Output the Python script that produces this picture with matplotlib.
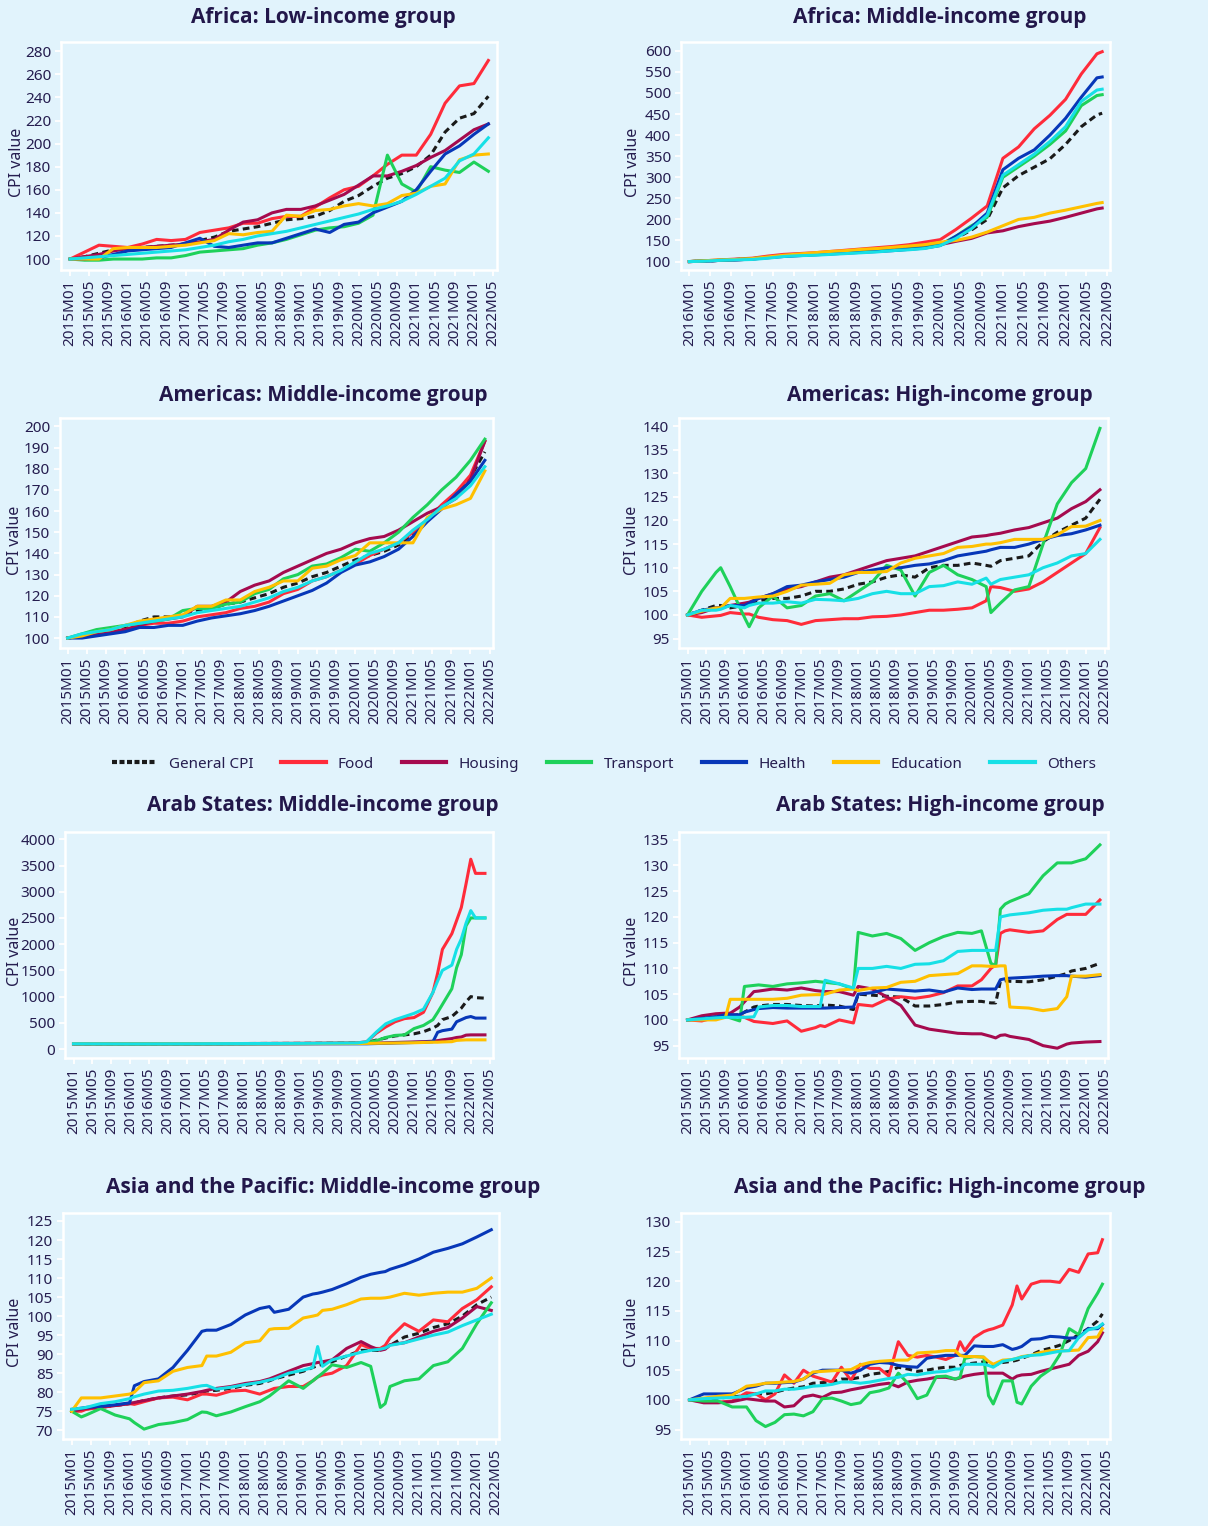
import matplotlib
matplotlib.use("Agg")
import matplotlib.pyplot as plt
from matplotlib.lines import Line2D

plt.rcParams['font.family'] = ['Noto Sans', 'DejaVu Sans']

BG = "#E1F3FC"
NAVY = "#251D4F"
TITLE = "#22174A"
W, H = 1208, 1526

names = ["General CPI", "Food", "Housing", "Transport", "Health", "Education", "Others"]
colors = ["#1A1A1A", "#FF2B3A", "#A50A4E", "#1ED15A", "#0737B8", "#FFC000", "#16E0E6"]

# month index 0 = January of the panel's first year
M_Q = list(range(0, 88, 3))

# ---- Africa: Low-income group (2015M01..)
afl_gen = [100, 102, 105, 108, 109, 110, 111, 112, 113, 116, 119, 124, 126, 128, 131, 134, 135, 137, 142, 150,
           155, 163, 170, 174, 180, 190, 210, 222, 226, 241]
afl_food = [100, 106, 112, 111, 110, 113, 117, 116, 117, 123, 125, 127, 131, 131, 135, 137, 137, 145, 153, 160,
            163, 172, 182, 190, 190, 208, 235, 250, 252, 272]
afl_hous = [100, 102, 104, 107, 109, 110, 111, 112, 113, 115, 117, 125, 132, 134, 140, 143, 143, 146, 151, 156,
            164, 172, 172, 176, 181, 188, 194, 203, 212, 217]
afl_tran = [100, 99, 99, 100, 100, 100, 101, 101, 103, 106, 107, 108, 109, 112, 114, 117, 121, 125, 127, 128,
            131, 138, 190, 165, 158, 180, 177, 175, 184, 176]
afl_heal = [100, 100, 101, 104, 107, 108, 109, 110, 114, 118, 111, 110, 112, 114, 114, 118, 122, 126, 123, 130,
            132, 140, 145, 150, 160, 176, 191, 198, 208, 217]
afl_educ = [100, 100, 100, 109, 110, 110, 110, 111, 112, 114, 116, 122, 121, 123, 124, 138, 137, 142, 143, 146,
            148, 146, 148, 155, 157, 163, 165, 186, 190, 191]
afl_oth = [100, 101, 102, 103, 104, 105, 106, 107, 108, 110, 112, 115, 117, 120, 122, 124, 127, 130, 133, 136,
           139, 143, 146, 150, 156, 163, 170, 185, 191, 205]

# ---- Africa: Middle-income group (2016M01..)
afm_months = list(range(0, 79, 3)) + [79]
afm_gen = [100, 101, 103, 105, 107, 110, 114, 116, 118, 120, 122, 125, 127, 130, 133, 136, 142, 155, 175, 200,
           275, 304, 324, 344, 378, 420, 448, 452]
afm_food = [100, 102, 104, 106, 108, 113, 117, 119, 121, 124, 127, 130, 133, 136, 140, 146, 152, 176, 203, 232,
            345, 372, 415, 447, 485, 545, 593, 598]
afm_hous = [100, 101, 103, 104, 106, 110, 114, 116, 118, 120, 122, 124, 126, 128, 131, 134, 140, 148, 155, 168,
            173, 183, 190, 196, 205, 215, 225, 227]
afm_tran = [100, 102, 103, 105, 107, 110, 113, 115, 117, 119, 121, 123, 125, 127, 130, 133, 140, 160, 185, 205,
            300, 325, 350, 378, 410, 470, 494, 496]
afm_heal = [100, 101, 103, 104, 106, 109, 112, 114, 116, 118, 120, 122, 124, 126, 129, 132, 138, 160, 182, 215,
            318, 345, 365, 400, 440, 490, 536, 538]
afm_educ = [100, 102, 104, 105, 107, 111, 115, 118, 121, 124, 126, 129, 131, 134, 137, 140, 146, 150, 158, 170,
            185, 200, 205, 215, 222, 230, 238, 240]
afm_oth = [100, 101, 103, 104, 105, 108, 112, 114, 115, 117, 119, 121, 123, 126, 128, 131, 138, 155, 178, 210,
           305, 330, 355, 385, 420, 480, 507, 509]

# ---- Americas: Middle-income group
amm_gen = [100, 101, 103, 104, 105, 108, 110, 110, 111, 113, 114, 116, 117, 119, 121, 124, 126, 129, 131, 134,
           137, 139, 141, 144, 149, 156, 162, 168, 176, 188]
amm_food = [100, 101, 102, 103, 104, 106, 107, 107, 108, 110, 111, 112, 114, 115, 117, 121, 123, 127, 129, 132,
            135, 139, 142, 145, 150, 156, 163, 169, 177, 193]
amm_hous = [100, 101, 102, 103, 104, 106, 108, 109, 110, 115, 115, 117, 122, 125, 127, 131, 134, 137, 140, 142,
            145, 147, 148, 151, 155, 159, 162, 166, 175, 193]
amm_tran = [100, 102, 104, 105, 106, 107, 108, 109, 113, 114, 114, 116, 117, 121, 123, 128, 130, 134, 135, 138,
            142, 141, 145, 150, 157, 163, 170, 176, 184, 194]
amm_heal = [100, 100, 101, 102, 103, 105, 105, 106, 106, 108, 109.5, 110.5, 111.5, 113, 115, 117.5, 120, 122.5, 126, 131,
            134.5, 136, 138.5, 142, 148, 155, 161, 168, 174, 184]
amm_educ = [100, 101, 103, 104, 106, 108, 109, 110, 111, 115, 115, 118, 118, 122, 124, 127, 127, 133, 134, 137,
            139, 145, 145, 145, 145, 157, 161, 163, 166, 179]
amm_oth = [100, 102, 103, 104, 106, 107, 108, 109, 110, 112, 113, 114, 115, 117, 119, 122, 124, 127, 129, 132,
           136, 140, 142, 145, 151, 156, 162, 166, 172, 181]

# ---- Americas: High-income group
amh_months = [0, 3, 6, 7, 9, 12, 13, 15, 18, 21, 24, 27, 30, 33, 36, 39, 42, 45, 48, 51, 54, 57, 60, 63,
              64, 66, 69, 72, 75, 78, 81, 84, 87]
amh_gen = [100, 101, 102, 102, 101.5, 102, 102, 103, 103.5, 103.5, 104, 105, 105, 105.5, 106.5, 107, 108, 108.5,
           108, 110, 110.5, 110.5, 111, 110.5, 110.3, 111.5, 112, 112.5, 115.5, 117.5, 119, 120.5, 124.5]
amh_food = [100, 99.5, 99.8, 99.9, 100.5, 100.2, 100.2, 99.5, 99, 98.8, 98, 98.8, 99, 99.2, 99.2, 99.6, 99.7, 100,
            100.5, 101, 101, 101.2, 101.5, 103, 106, 105.8, 105, 105.5, 107, 109, 111, 113, 118.5]
amh_hous = [100, 100.5, 101.5, 101.6, 102, 102.5, 102.7, 103.5, 104.5, 105.5, 106, 107, 108, 108.5, 109.5, 110.5,
            111.5, 112, 112.5, 113.5, 114.5, 115.5, 116.5, 116.8, 117, 117.3, 118, 118.5, 119.5, 120.5, 122.5, 124, 126.5]
amh_tran = [100, 105, 109, 110, 106, 99.5, 97.5, 101.5, 104, 101.5, 102, 104, 104.5, 103, 105, 107, 110.5, 109.5,
            104, 109, 110.5, 108.5, 107.5, 106, 100.5, 102.5, 105.3, 106, 115, 123.5, 128, 131, 139.5]
amh_heal = [100, 101, 101.5, 101.5, 102, 102, 102.5, 103.5, 104.5, 106, 106.3, 107, 107.5, 108, 109, 109.5, 110,
            110, 110.5, 110.8, 111.5, 112.5, 113, 113.5, 113.8, 114.3, 114.3, 115, 116, 116.8, 117.2, 118, 119]
amh_educ = [100, 100.8, 101.5, 101.5, 103.5, 103.5, 103.6, 103.8, 104, 105, 106.3, 106.5, 106.7, 108.5, 109, 109,
            109.2, 111, 112, 112.5, 113, 114.3, 114.5, 115, 115, 115.3, 116, 116, 116, 117, 118.7, 118.8, 120]
amh_oth = [100, 101, 101, 101.2, 102, 101.5, 102, 102.5, 102.5, 102.8, 102.5, 103.3, 103.2, 103, 103.5, 104.5, 105,
           104.5, 104.5, 106, 106.2, 107, 106.5, 107.8, 106.5, 107.5, 108, 108.5, 110, 111, 112.5, 113, 116]

# ---- Arab States: Middle-income group
arm_months = [0, 12, 24, 36, 48, 60, 62, 64, 66, 68, 70, 72, 74, 76, 77, 78, 80, 81, 82, 83, 84, 85, 87]
arm_gen = [100, 100, 102, 105, 108, 115, 125, 170, 210, 250, 270, 290, 330, 400, 450, 560, 620, 700, 780, 900,
           1000, 980, 970]
arm_food = [100, 98, 100, 105, 110, 118, 140, 300, 420, 520, 580, 600, 700, 1080, 1450, 1900, 2200, 2450, 2700,
            3150, 3620, 3350, 3350]
arm_hous = [100, 100, 101, 102, 104, 106, 108, 112, 118, 125, 130, 135, 140, 150, 160, 175, 200, 220, 230, 265,
            270, 270, 270]
arm_tran = [100, 95, 98, 100, 104, 110, 120, 160, 220, 260, 270, 390, 450, 560, 700, 850, 1150, 1550, 1800, 2350,
            2500, 2500, 2500]
arm_heal = [100, 100, 100, 100, 100, 100, 100, 105, 110, 115, 120, 125, 130, 140, 320, 350, 380, 520, 560, 600,
            620, 590, 590]
arm_educ = [100, 100, 101, 102, 103, 105, 107, 110, 112, 115, 118, 120, 125, 130, 130, 135, 140, 165, 170, 175,
            175, 175, 175]
arm_oth = [100, 98, 100, 104, 108, 115, 140, 320, 480, 560, 620, 680, 760, 1080, 1300, 1500, 1600, 1900, 2100,
           2400, 2640, 2500, 2500]

# ---- Arab States: High-income group
arh_months = [0, 3, 6, 8, 9, 11, 12, 14, 15, 18, 21, 24, 27, 28, 29, 32, 35, 36, 39, 42,
              45, 48, 51, 54, 57, 60, 62, 64, 65, 66, 67, 68, 72, 75, 78, 80, 81, 84, 87]
arh_gen = [100, 100.3, 100.6, 100.8, 100.9, 101, 101.5, 102.5, 102.7, 103,
           103, 102.8, 102.7, 102.8, 102.9, 102.7, 102, 105, 104.8, 104.6,
           104.4, 102.7, 102.7, 103, 103.5, 103.6, 103.6, 103.3, 103.3, 107.5,
           107.6, 107.5, 107.4, 107.8, 108.5, 109, 109.5, 110, 111]
arh_food = [100, 99.8, 100.5, 100.7, 101, 100.7, 100.5, 99.7, 99.6, 99.3,
            99.8, 97.8, 98.5, 98.9, 98.7, 100, 99.4, 103, 102.7, 104,
            104.5, 104.2, 104.6, 105.3, 106.6, 106.6, 107.8, 110, 110.7, 116.8,
            117.3, 117.5, 117, 117.3, 119.5, 120.5, 120.5, 120.5, 123.3]
arh_hous = [100, 100.8, 101.2, 101.3, 101.3, 102.5, 103.5, 105.5, 105.6, 106,
            105.8, 106.2, 105.7, 105.6, 105.5, 105.5, 104.8, 106.5, 106, 104.5,
            102.8, 99, 98.2, 97.8, 97.4, 97.3, 97.3, 96.8, 96.5, 97,
            97.1, 96.8, 96.2, 95, 94.5, 95.3, 95.5, 95.7, 95.8]
arh_tran = [100, 100.2, 100.5, 100.8, 100.4, 99.8, 106.5, 106.7, 106.8, 106.5,
            107, 107.2, 107.5, 107.4, 107.3, 107, 106, 117, 116.3, 116.8,
            115.8, 113.5, 115, 116.2, 117, 116.8, 117.3, 111, 110.5, 121.5,
            122.5, 123, 124.5, 128, 130.5, 130.5, 130.5, 131.3, 134]
arh_heal = [100, 100.3, 100.6, 101, 101, 101, 101.5, 102, 102.2, 102.4,
            102.3, 102.3, 102.3, 102.3, 102.3, 102.4, 102.5, 105, 105.3, 106,
            105.8, 105.6, 105.8, 105.4, 106.2, 105.9, 106, 106, 106, 107.8,
            108, 108.1, 108.3, 108.5, 108.6, 108.6, 108.5, 108.3, 108.6]
arh_educ = [100, 100, 100, 100.5, 104, 104, 104, 104, 104, 104,
            104.2, 104.8, 104.9, 104.9, 105, 105.8, 106, 105.7, 106.2, 106.3,
            107.3, 107.5, 108.6, 108.8, 109, 110.5, 110.5, 110.4, 110.4, 110.5,
            110.5, 102.5, 102.3, 101.8, 102.2, 104.5, 108.5, 108.5, 108.8]
arh_oth = [100, 100.2, 100.4, 100.5, 100.5, 100.5, 100.5, 100.6, 102.5, 102.8,
           102.8, 102.6, 102.6, 102.6, 107.7, 107, 106.2, 110, 110, 110.4,
           110, 110.8, 110.9, 111.5, 113.3, 113.5, 113.5, 113.5, 113.5, 120,
           120.2, 120.4, 120.8, 121.3, 121.5, 121.5, 121.8, 122.5, 122.5]

# ---- Asia and the Pacific: Middle-income group
apm_months = [0, 2, 3, 6, 9, 12, 13, 15, 18, 21, 24, 27, 28, 30, 33, 36, 39, 41, 42, 45,
              48, 50, 51, 52, 54, 57, 60, 62, 64, 65, 66, 69, 72, 75, 78, 81, 84, 87]
apm_gen = [75, 75.3, 75.6, 76, 76.5, 77, 77.2, 77.8, 78.5, 79, 79.3, 80, 80.3, 80.5, 81, 81.8, 82.3, 83, 83.5, 84.5,
           85.5, 86.5, 87, 87.3, 88, 89.5, 91, 91, 91, 91.5, 92.3, 94.5, 95.5, 97, 98, 100, 103, 105]
apm_food = [75, 75, 75.5, 76, 76.5, 77, 76.8, 77.5, 78.5, 78.7, 78, 79.5, 79.5, 79.2, 80.3, 80.5, 79.5, 80.5, 81,
            81.5, 81.5, 83, 84, 84.5, 85, 87, 92.5, 91.5, 91.5, 92.3, 94.3, 98, 96, 99, 98.5, 102, 104.3, 107.7]
apm_hous = [75, 75.5, 75.7, 76.2, 76.5, 77, 77.3, 77.8, 78.5, 79, 79.5, 80.2, 80.5, 81, 81.5, 82.3, 82.8, 83.5, 84,
            85.5, 87, 87.5, 87.8, 88, 88.5, 91.5, 93.3, 92, 91, 91.3, 92.5, 93, 94.5, 96, 97, 99.5, 102.5, 101.5]
apm_tran = [75, 73.5, 74, 75.7, 74, 73, 72, 70.3, 71.5, 72, 72.8, 74.8, 74.7, 73.8, 74.8, 76.2, 77.5, 79, 80, 83,
            81, 83, 84, 85, 87.2, 86.5, 87.8, 86.8, 76, 77, 81.5, 83, 83.5, 87, 88, 91.5, 98, 103.5]
apm_heal = [75.5, 75.8, 76, 76.3, 76.7, 77.2, 81.7, 82.8, 83.5, 86.5, 91, 96, 96.3, 96.3, 97.8, 100.3, 102, 102.5,
            101, 101.8, 105, 105.8, 106, 106.3, 107, 108.5, 110.2, 111, 111.5, 111.7, 112.3, 113.5, 115, 116.8,
            117.8, 119, 120.8, 122.7]
apm_educ = [75, 78.5, 78.5, 78.5, 79, 79.5, 80, 82.5, 83, 85.5, 86.5, 87, 89.5, 89.5, 90.5, 93, 93.5, 96.5, 96.7,
            96.8, 99.5, 100, 100.3, 101.5, 101.8, 103, 104.5, 104.7, 104.7, 104.8, 105, 106, 105.5, 106, 106.3,
            106.3, 107.3, 110]
apm_oth = [75.5, 75.8, 76, 77, 77.5, 78.3, 78.8, 79.5, 80.3, 80.5, 81, 81.7, 81.8, 80.8, 81.3, 82, 82.6, 83.2,
           83.5, 85, 85.8, 86.5, 92, 86.8, 88.5, 89.5, 90.5, 91, 91.3, 91.6, 92.3, 93, 94, 95, 95.8, 97.5, 99, 100.5]

# ---- Asia and the Pacific: High-income group
aph_months = [0, 3, 6, 9, 12, 14, 16, 18, 20, 22, 24, 26, 28, 30, 32, 34, 36, 38, 40, 42,
              44, 46, 48, 50, 52, 54, 56, 57, 58, 60, 62, 63, 64, 66, 68, 69, 70, 72, 74, 76,
              78, 80, 82, 84, 86, 87]
aph_gen = [100, 100, 100.3, 100.5, 100.7, 101, 101, 101.3, 101.7, 102,
           102.2, 102.8, 102.9, 103, 103.5, 103.5, 103.8, 104.3, 104.5, 104.8,
           105.5, 105.2, 104.8, 105, 105.3, 105.5, 105.5, 105.8, 106, 106.2,
           106.4, 106.2, 105.8, 106.3, 106.5, 106.7, 107, 107.6, 108.3, 108.7,
           109.2, 110, 111, 112, 113.3, 114.5]
aph_food = [100, 99.7, 99.6, 99.8, 101.2, 101, 100, 101, 104.2, 102.8,
            105, 104, 103.5, 103, 105.5, 103.3, 106, 105.3, 105.3, 104,
            109.8, 107.5, 107.2, 107.5, 107.2, 106.8, 107.5, 109.8, 108.3, 110.5,
            111.5, 111.8, 112, 112.6, 116, 119.2, 117, 119.5, 120, 120,
            119.8, 122, 121.5, 124.6, 124.8, 127]
aph_hous = [100, 99.5, 99.5, 99.7, 100.2, 100, 99.8, 99.8, 98.8, 99,
            100.5, 100.8, 100.4, 101.2, 101.3, 101.7, 102, 102.3, 102.6, 102.8,
            102.2, 103, 103.3, 103.5, 103.8, 103.8, 103.5, 103.7, 104, 104.3,
            104.5, 104.5, 104.5, 104.5, 103.5, 104, 104.2, 104.3, 104.8, 105.2,
            105.6, 106, 107.5, 108.2, 109.8, 111.3]
aph_tran = [100, 99.8, 99.8, 98.8, 98.8, 96.5, 95.5, 96.2, 97.5, 97.6,
            97.3, 98, 100.2, 100.3, 99.8, 99.2, 99.5, 101.2, 101.5, 102,
            104.5, 102.8, 100.2, 100.8, 103.9, 104, 103.5, 103.8, 107, 107.3,
            107.2, 100.7, 99.3, 103.2, 103.2, 99.6, 99.3, 102.3, 104, 105.1,
            107.6, 112, 111, 115.4, 118, 119.5]
aph_heal = [100, 101, 101, 101, 102, 102.3, 102.8, 102.8, 102.9, 103,
            103.5, 104.5, 105, 105, 105, 104.5, 105, 106, 106.3, 106.2,
            105.8, 105.6, 105.5, 107, 107.3, 107.5, 107.5, 107.5, 107.5, 109.1,
            109, 109, 109, 109.3, 108.5, 108.7, 109, 110.2, 110.3, 110.7,
            110.6, 110.4, 110.5, 112, 112, 112.7]
aph_educ = [100, 100.3, 100.6, 100.8, 102.3, 102.5, 102.8, 102.9, 103, 103.1,
            103.5, 104.7, 104.8, 104.9, 105, 105.1, 105.9, 106.3, 106.5, 106.6,
            106.7, 106.7, 107.9, 108, 108.1, 108.3, 108.3, 107.5, 107.3, 107.3,
            107.2, 106.5, 106, 106.7, 106.8, 107, 107.3, 107.5, 108, 108.3,
            108.3, 108.3, 108.4, 110.5, 110.6, 112]
aph_oth = [100, 100.2, 100.3, 100.4, 100.6, 101, 101.5, 101.5, 101.8, 101.8,
           102, 102.3, 102.4, 102.6, 103, 103, 102.8, 103, 103.3, 103.6,
           103.8, 104.3, 104.2, 104.5, 104.7, 104.8, 105.2, 105.2, 106, 106,
           106, 105.8, 105.5, 106.5, 106.8, 107, 107.2, 107.5, 107.6, 107.9,
           108.2, 108.3, 110.5, 111.8, 112.2, 112.8]


def rect(l, t, r, b):
    return [l / W, (H - b) / H, (r - l) / W, (b - t) / H]


fig = plt.figure(figsize=(W / 100, H / 100), dpi=100)
fig.patch.set_facecolor(BG)


def panel(box, title, tx, ty, ylab_x, months, series, year0, last_tick, xlim, ylim, yticks):
    ax = fig.add_axes(box)
    ax.set_facecolor(BG)
    for vals, c, name in zip(series, colors, names):
        if name == "General CPI":
            ax.plot(months, vals, color=c, lw=2.2, ls=(0, (2.2, 1.4)))
        else:
            ax.plot(months, vals, color=c, lw=2.2)
    ticks = list(range(0, last_tick + 1, 4))
    ax.set_xticks(ticks)
    ax.set_xticklabels([f"{year0 + i // 12}M{i % 12 + 1:02d}" for i in ticks], rotation=90)
    ax.set_xlim(*xlim)
    ax.set_ylim(*ylim)
    ax.set_yticks(yticks)
    ax.tick_params(colors="white", labelcolor=NAVY, labelsize=11, length=4.5, width=1.3, pad=2.5)
    for s in ax.spines.values():
        s.set_color("white")
        s.set_linewidth(1.8)
    ax.set_ylabel("CPI value", color=NAVY, fontsize=11.5)
    ax.yaxis.set_label_coords((ylab_x - box[0] * W) / (box[2] * W), 0.47)
    fig.text(tx / W, 1 - ty / H, title, ha="center", va="center", fontsize=15,
             fontweight="bold", color=TITLE, family="Open Sans")
    return ax


LX, RX = 323, 940
panel(rect(61, 42, 497, 270), "Africa: Low-income group", LX, 17, 25, M_Q,
      [afl_gen, afl_food, afl_hous, afl_tran, afl_heal, afl_educ, afl_oth],
      2015, 88, (-1.9, 88.8), (90.5, 288), range(100, 281, 20))
panel(rect(681, 42, 1110, 270), "Africa: Middle-income group", RX, 17, 641, afm_months,
      [afm_gen, afm_food, afm_hous, afm_tran, afm_heal, afm_educ, afm_oth],
      2016, 80, (-1.6, 80.5), (80, 621), range(100, 601, 50))
panel(rect(60, 418, 493, 648), "Americas: Middle-income group", LX, 395, 23, M_Q,
      [amm_gen, amm_food, amm_hous, amm_tran, amm_heal, amm_educ, amm_oth],
      2015, 88, (-1.6, 88.7), (95.3, 204), range(100, 201, 10))
panel(rect(679, 418, 1108, 648), "Americas: High-income group", RX, 395, 640, amh_months,
      [amh_gen, amh_food, amh_hous, amh_tran, amh_heal, amh_educ, amh_oth],
      2015, 88, (-1.8, 88.7), (93, 141.7), range(95, 141, 5))
panel(rect(65, 832, 493, 1058), "Arab States: Middle-income group", LX, 806, 23, arm_months,
      [arm_gen, arm_food, arm_hous, arm_tran, arm_heal, arm_educ, arm_oth],
      2015, 88, (-1.8, 88.7), (-171, 4139), range(0, 4001, 500))
panel(rect(679, 832, 1108, 1058), "Arab States: High-income group", RX, 806, 640, arh_months,
      [arh_gen, arh_food, arh_hous, arh_tran, arh_heal, arh_educ, arh_oth],
      2015, 88, (-1.8, 88.7), (92.6, 136.5), range(95, 136, 5))
panel(rect(63, 1213, 499, 1439), "Asia and the Pacific: Middle-income group", LX, 1188, 23, apm_months,
      [apm_gen, apm_food, apm_hous, apm_tran, apm_heal, apm_educ, apm_oth],
      2015, 88, (-1.8, 88.6), (67.7, 127.1), range(70, 126, 5))
panel(rect(681, 1213, 1110, 1439), "Asia and the Pacific: High-income group", RX, 1188, 640, aph_months,
      [aph_gen, aph_food, aph_hous, aph_tran, aph_heal, aph_educ, aph_oth],
      2015, 88, (-1.8, 88.6), (93.4, 131.5), range(95, 131, 5))

handles = []
for c, name in zip(colors, names):
    ls = (0, (1.2, 0.6)) if name == "General CPI" else "-"
    handles.append(Line2D([], [], color=c, lw=3, ls=ls))
fig.legend(handles, names, loc="center", bbox_to_anchor=(0.5, 1 - 764 / H), ncol=7, frameon=False,
           fontsize=11, handlelength=2.9, handletextpad=0.8, columnspacing=1.83, labelcolor=NAVY)

fig.savefig("out.png", dpi=100, facecolor=BG)
